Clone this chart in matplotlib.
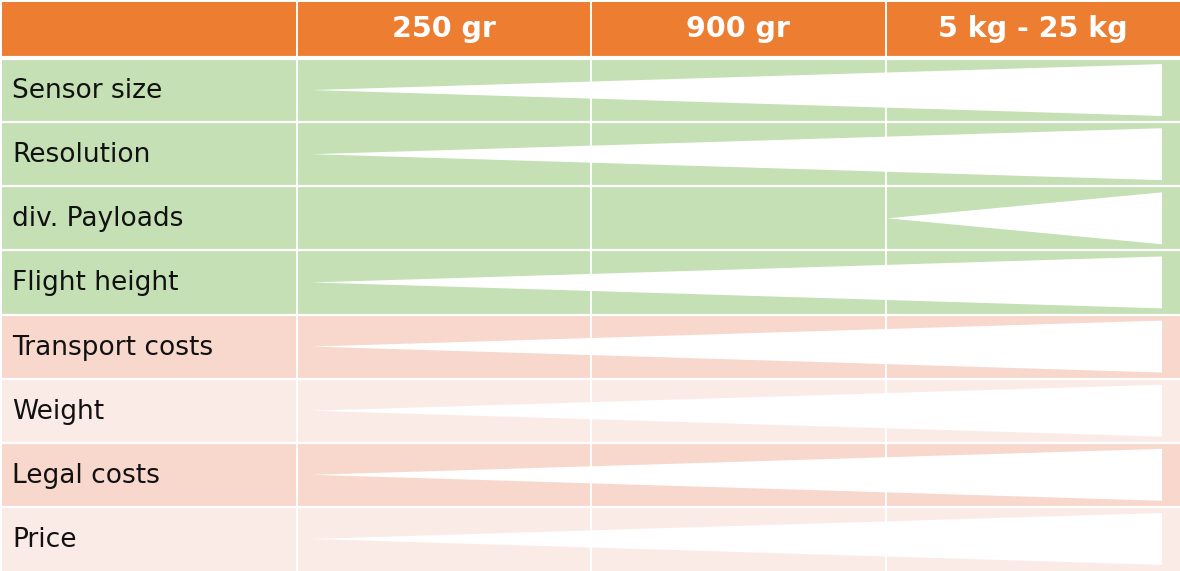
import matplotlib
matplotlib.use("Agg")
import matplotlib.pyplot as plt
from matplotlib.patches import Rectangle, Polygon

# ---- data ----
columns = ["250 gr", "900 gr", "5 kg - 25 kg"]
criteria = ["Sensor size", "Resolution", "div. Payloads", "Flight height",
            "Transport costs", "Weight", "Legal costs", "Price"]
# wedge extent in column units (0 = start of "250 gr", 3 = end of last column)
wedge_start = [0.053, 0.053, 2.007, 0.053, 0.053, 0.053, 0.053, 0.053]
wedge_end = [2.939, 2.939, 2.939, 2.939, 2.939, 2.939, 2.939, 2.939]
group = ["benefit", "benefit", "benefit", "benefit", "cost", "cost", "cost", "cost"]

# ---- style ----
ORANGE = "#ED7D31"
GREEN = "#C5E0B4"
PINK_DARK = "#F8D7CC"
PINK_LIGHT = "#FBEBE7"
COL_PX = 294.5
ROW_PX = 64.125
HEADER_H = 56 / ROW_PX
WEDGE_HALF = 0.405

fig = plt.figure(figsize=(11.8, 5.71), dpi=100)
ax = fig.add_axes([0, 0, 1, 1])
ax.set_xlim(-1 - 2 / COL_PX, 3)
ax.set_ylim(len(criteria), -58 / ROW_PX)
ax.axis("off")
fig.patch.set_facecolor("white")

label_font = ["DejaVu Sans"]

# header
ax.add_patch(Rectangle((-1, -HEADER_H - 0.5 / ROW_PX), 4.2, HEADER_H, facecolor=ORANGE,
                       edgecolor="none", clip_on=False))
for j, c in enumerate(columns):
    ax.text(j + 0.5, -HEADER_H / 2 - 1.0 / ROW_PX, c, ha="center", va="center",
            color="white", fontsize=20.5, fontweight="bold", family=label_font)

# body rows
pink_i = 0
n = len(criteria)
for i, name in enumerate(criteria):
    if group[i] == "benefit":
        color = GREEN
    else:
        color = PINK_DARK if pink_i % 2 == 0 else PINK_LIGHT
        pink_i += 1
    h = 1.2 if i == n - 1 else 1
    ax.add_patch(Rectangle((-1, i), 4.2, h, facecolor=color, edgecolor="none",
                           clip_on=False))
    ax.text(-1 + 10 / COL_PX, i + 0.5 + 1.0 / ROW_PX, name, ha="left", va="center",
            color="#111111", fontsize=19, family=label_font)
    # wedge
    poly = Polygon([(wedge_start[i], i + 0.5),
                    (wedge_end[i], i + 0.5 - WEDGE_HALF),
                    (wedge_end[i], i + 0.5 + WEDGE_HALF)],
                   closed=True, facecolor="white", edgecolor="none", zorder=3)
    ax.add_patch(poly)

# grid lines
for i in range(1, n):
    ax.plot([-1.01, 3.1], [i, i], color="white", lw=1.6, zorder=2)
ax.plot([-1.01, 3.1], [-0.5 / ROW_PX, -0.5 / ROW_PX], color="white", lw=3.0, zorder=2)
for x in [0, 1, 2]:
    ax.plot([x, x], [-HEADER_H - 0.5 / ROW_PX, n + 0.2], color="white",
            lw=1.4, zorder=2)

fig.savefig("out.png", dpi=100, facecolor="white")
